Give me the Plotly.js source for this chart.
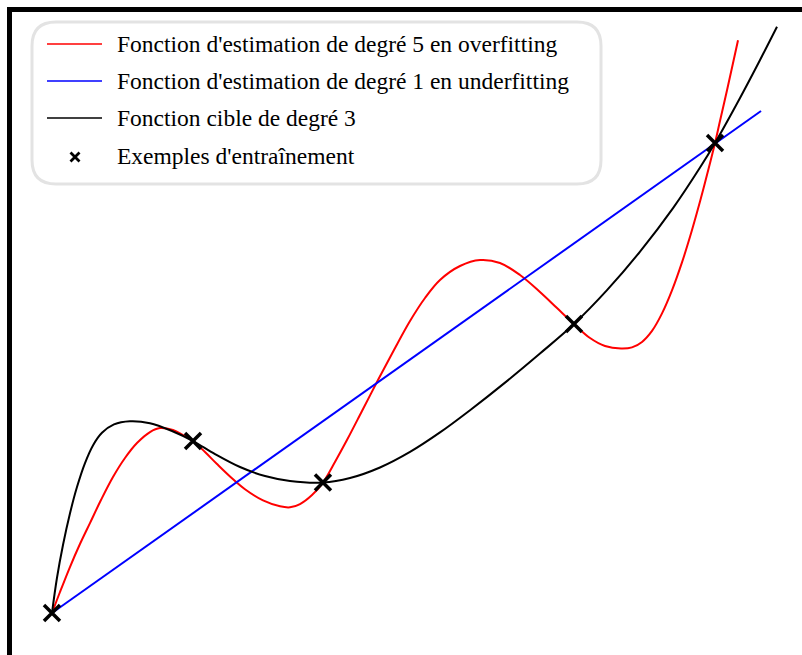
<!DOCTYPE html>
<html>
<head>
<meta charset="utf-8">
<script src="https://cdn.plot.ly/plotly-3.0.1.min.js"></script>
<style>
  html, body { margin: 0; padding: 0; background: #fff; }
  #chart { width: 802px; height: 655px; }
</style>
</head>
<body>
<div id="chart"></div>
<script>
// Training examples
const sampleX = [0, 2.127, 4.087, 7.873, 10.0];
const sampleY = [0, 2.594, 1.968, 4.359, 7.089];

// Target function (degree 3)
const targetX = [0, 0.075, 0.166, 0.271, 0.377, 0.498, 0.618, 0.754, 0.935, 1.176, 1.478, 1.810, 2.127, 2.459, 2.836, 3.213, 3.590, 4.087, 4.495, 4.947, 5.400, 5.852, 6.305, 6.833, 7.360, 7.873, 8.371, 8.869, 9.367, 9.774, 10.0, 10.377, 10.679, 10.935];
const targetY = [0, 0.528, 1.026, 1.501, 1.900, 2.262, 2.528, 2.718, 2.845, 2.893, 2.863, 2.745, 2.594, 2.398, 2.202, 2.066, 1.991, 1.968, 2.036, 2.195, 2.430, 2.724, 3.059, 3.475, 3.914, 4.359, 4.869, 5.451, 6.107, 6.719, 7.089, 7.768, 8.341, 8.842];

// Degree 5 estimate (overfitting)
const overX = [0, 0.121, 0.271, 0.422, 0.573, 0.739, 0.920, 1.101, 1.282, 1.478, 1.629, 1.825, 1.976, 2.127, 2.308, 2.489, 2.685, 2.911, 3.183, 3.439, 3.590, 3.741, 3.922, 4.087, 4.268, 4.449, 4.676, 4.917, 5.158, 5.400, 5.626, 5.852, 6.154, 6.456, 6.757, 7.059, 7.360, 7.617, 7.873, 8.115, 8.341, 8.582, 8.748, 8.899, 9.050, 9.201, 9.351, 9.502, 9.623, 9.729, 9.834, 9.925, 10.0, 10.075, 10.181, 10.271, 10.347];
const overY = [0, 0.317, 0.694, 1.041, 1.357, 1.704, 2.051, 2.338, 2.564, 2.730, 2.790, 2.760, 2.685, 2.594, 2.428, 2.247, 2.060, 1.867, 1.698, 1.609, 1.594, 1.644, 1.780, 1.968, 2.278, 2.609, 3.047, 3.514, 3.967, 4.404, 4.751, 5.023, 5.234, 5.324, 5.279, 5.098, 4.842, 4.600, 4.359, 4.148, 4.027, 3.989, 4.006, 4.089, 4.255, 4.519, 4.866, 5.288, 5.674, 6.044, 6.434, 6.787, 7.089, 7.421, 7.885, 8.293, 8.640];

// Degree 1 estimate (underfitting)
const underX = [0, 10.694];
const underY = [0, 7.572];

const legendLabels = [
  "Fonction d'estimation de degré 5 en overfitting",
  "Fonction d'estimation de degré 1 en underfitting",
  "Fonction cible de degré 3",
  "Exemples d'entraînement"
];
const legendColors = ['#ff0000', '#0000ff', '#000000'];

// Pixel helpers for the legend panel (paper coordinates)
const W = 790, H = 643, ML = 12, MT = 12;
const px = v => (v - ML) / W;
const py = v => 1 - (v - MT) / H;

function roundedBox(x0, y0, x1, y1, r) {
  const p = (x, y) => px(x) + ',' + py(y);
  return 'M' + p(x0 + r, y0) + ' L' + p(x1 - r, y0) +
    ' Q' + p(x1, y0) + ' ' + p(x1, y0 + r) +
    ' L' + p(x1, y1 - r) + ' Q' + p(x1, y1) + ' ' + p(x1 - r, y1) +
    ' L' + p(x0 + r, y1) + ' Q' + p(x0, y1) + ' ' + p(x0, y1 - r) +
    ' L' + p(x0, y0 + r) + ' Q' + p(x0, y0) + ' ' + p(x0 + r, y0) + ' Z';
}

const rowY = [44, 81, 118, 156];

const shapes = [{
  type: 'path', xref: 'paper', yref: 'paper', layer: 'below',
  path: roundedBox(32, 22, 601, 184, 24),
  line: { color: '#e3e3e3', width: 3 }, fillcolor: 'rgba(255,255,255,0)'
}];
legendColors.forEach((c, i) => {
  shapes.push({
    type: 'line', xref: 'paper', yref: 'paper',
    x0: px(47), x1: px(102), y0: py(rowY[i]), y1: py(rowY[i]),
    line: { color: c, width: 1.6 }
  });
});
// small cross for the training examples entry
const cx = 75, cy = rowY[3] + 1, hs = 4.5;
shapes.push({
  type: 'path', xref: 'paper', yref: 'paper',
  path: 'M' + px(cx - hs) + ',' + py(cy - hs) + ' L' + px(cx + hs) + ',' + py(cy + hs) +
        ' M' + px(cx - hs) + ',' + py(cy + hs) + ' L' + px(cx + hs) + ',' + py(cy - hs),
  line: { color: '#000', width: 2.8 }
});

const annotations = legendLabels.map((t, i) => ({
  text: t, xref: 'paper', yref: 'paper',
  x: px(115), y: py(rowY[i]), xanchor: 'left', yanchor: 'middle',
  showarrow: false, align: 'left',
  font: { family: 'Liberation Serif, serif', size: 23.5, color: '#000' }
}));

const traces = [
  { x: overX, y: overY, mode: 'lines', name: legendLabels[0],
    line: { color: '#ff0000', width: 2, shape: 'spline', smoothing: 1, simplify: false } },
  { x: underX, y: underY, mode: 'lines', name: legendLabels[1],
    line: { color: '#0000ff', width: 2 } },
  { x: targetX, y: targetY, mode: 'lines', name: legendLabels[2],
    line: { color: '#000000', width: 2, shape: 'spline', smoothing: 1, simplify: false } },
  { x: sampleX, y: sampleY, mode: 'markers', name: legendLabels[3],
    marker: { symbol: 'x-thin', size: 16, color: '#000', line: { color: '#000', width: 3.5 } } }
];

const layout = {
  width: 802, height: 655,
  margin: { l: ML, t: MT, r: 0, b: 0, pad: 0 },
  paper_bgcolor: '#fff', plot_bgcolor: '#fff',
  showlegend: false,
  xaxis: {
    range: [-0.603, 11.312], side: 'top',
    showgrid: false, zeroline: false, showticklabels: false, ticks: '',
    showline: true, linecolor: '#000', linewidth: 5
  },
  yaxis: {
    range: [-0.633, 9.065],
    showgrid: false, zeroline: false, showticklabels: false, ticks: '',
    showline: true, linecolor: '#000', linewidth: 5
  },
  shapes: shapes,
  annotations: annotations
};

Plotly.newPlot('chart', traces, layout, { displayModeBar: false, staticPlot: true });
</script>
</body>
</html>
